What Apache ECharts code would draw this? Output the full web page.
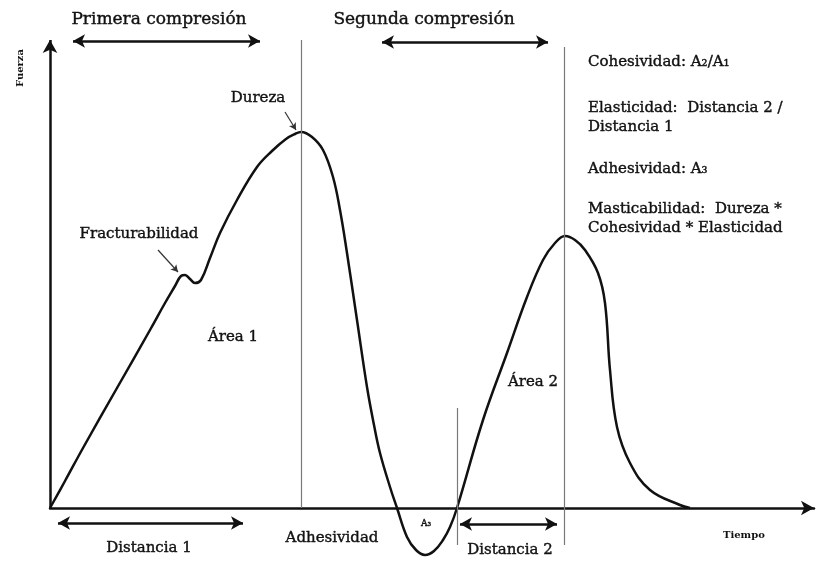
<!DOCTYPE html>
<html>
<head>
<meta charset="utf-8">
<title>Perfil de textura</title>
<script src="https://cdn.jsdelivr.net/npm/echarts@6/dist/echarts.min.js"></script>
<style>
  html, body { margin: 0; padding: 0; background: #fff; }
  #chart { width: 816px; height: 562px; }
</style>
</head>
<body>
<div id="chart"></div>
<script>
// curva fuerza-tiempo (unidades arbitrarias)
const tiempo = [0, 15, 33, 67, 100, 115, 125, 131, 135, 140, 145, 151, 160, 170, 187, 207, 222, 236, 245, 251,
  262, 273, 283, 290, 297, 307, 317, 324, 330, 340, 347, 357, 366, 375, 384, 393, 400, 407,
  433, 457, 477, 493, 505, 515, 525, 535, 548, 555, 560, 567, 580, 600, 630, 640]
const fuerza = [0, 27, 60, 120, 178, 205, 222, 232, 233, 229, 225, 228, 250, 275, 308, 341, 357, 369, 374, 376,
  371, 358, 331, 298, 255, 188, 121, 83, 55, 21, 0, -29, -42, -47, -43, -32, -19, 0,
  88, 155, 211, 248, 265, 272, 268, 258, 235, 205, 138, 81, 45, 18, 3, 0]

// lineas verticales de referencia: [tiempo, desde, hasta]
const guias = [[251, 0, 468], [514, -37, 461], [407, -37, 100]]
// flechas dobles: [t0, t1, nivel]
const flechas = [[23, 210, 467], [332, 498, 466], [8, 193, -15], [410, 507, -16]]
// flechas de anotacion: [t0, f0, t1, f1]
const punteros = [[235, 396, 246, 378], [108, 258, 128, 236]]

const serif = '"DejaVu Serif", "Liberation Serif", serif'
const ink = '#111'

const curva = tiempo.map((t, i) => [t, fuerza[i]])

const markData = []
// eje de fuerza con flecha
markData.push([
  { coord: [0, 0], symbol: 'none' },
  { coord: [0, 468], symbol: 'arrow', symbolSize: [11, 13], lineStyle: { color: ink, width: 2.5, type: 'solid' } }
])
guias.forEach(g => {
  markData.push([
    { coord: [g[0], g[1]], symbol: 'none' },
    { coord: [g[0], g[2]], symbol: 'none', lineStyle: { color: '#7a7a7a', width: 1.2, type: 'solid' } }
  ])
})
flechas.forEach(f => {
  markData.push([
    { coord: [f[0], f[2]], symbol: 'arrow', symbolSize: [10, 12] },
    { coord: [f[1], f[2]], symbol: 'arrow', symbolSize: [10, 12], lineStyle: { color: ink, width: 2.5, type: 'solid' } }
  ])
})
punteros.forEach(p => {
  markData.push([
    { coord: [p[0], p[1]], symbol: 'none' },
    { coord: [p[2], p[3]], symbol: 'arrow', symbolSize: [6, 7], lineStyle: { color: '#333', width: 1.2, type: 'solid' } }
  ])
})

// textos (trazo fino para imitar el escaneo)
const txt = (text, x, y, size, extra) => Object.assign({
  type: 'text', x: x, y: y, silent: true,
  style: {
    text: text, fill: ink, stroke: ink, lineWidth: 0.4,
    font: (size || 15) + 'px ' + serif, align: 'center', verticalAlign: 'middle'
  }
}, extra || {})

const textos = [
  txt('Primera compresión', 159, 20, 17),
  txt('Segunda compresión', 424, 20, 17),
  txt('Dureza', 258, 98),
  txt('Fracturabilidad', 139, 234),
  txt('Área 1', 233, 337),
  txt('Área 2', 533, 382),
  txt('Adhesividad', 332, 538),
  txt('Distancia 1', 149, 548),
  txt('Distancia 2', 510, 550),
  txt('A₃', 426, 524, 9),
  {
    type: 'text', x: 723, y: 535, silent: true,
    style: { text: 'Tiempo', fill: ink, font: 'bold 10px ' + serif, align: 'left', verticalAlign: 'middle' }
  },
  {
    type: 'text', x: 20, y: 68, rotation: Math.PI / 2, silent: true,
    style: { text: 'Fuerza', fill: ink, font: 'bold 10px ' + serif, align: 'center', verticalAlign: 'middle' }
  }
]
const bloque = [
  ['Cohesividad: A₂/A₁', 62],
  ['Elasticidad:  Distancia 2 /', 108],
  ['Distancia 1', 127],
  ['Adhesividad: A₃', 169],
  ['Masticabilidad:  Dureza *', 209],
  ['Cohesividad * Elasticidad', 228]
]
bloque.forEach(b => {
  textos.push({
    type: 'text', x: 588, y: b[1], silent: true,
    style: {
      text: b[0], fill: ink, stroke: ink, lineWidth: 0.4,
      font: '15px ' + serif, align: 'left', verticalAlign: 'middle'
    }
  })
})

const myChart = echarts.init(document.getElementById('chart'))
const option = {
  animation: false,
  grid: { left: 50, right: 2, top: 40, bottom: 4 },
  xAxis: {
    type: 'value', min: 0, max: 764,
    axisLine: {
      show: true,
      onZero: true,
      symbol: ['none', 'arrow'],
      symbolSize: [11, 13],
      lineStyle: { color: ink, width: 2.5 }
    },
    axisTick: { show: false },
    axisLabel: { show: false },
    splitLine: { show: false }
  },
  yAxis: {
    type: 'value', min: -50, max: 468,
    axisLine: { show: false },
    axisTick: { show: false },
    axisLabel: { show: false },
    splitLine: { show: false }
  },
  series: [
    {
      type: 'line',
      data: curva,
      smooth: 0.4,
      showSymbol: false,
      clip: false,
      silent: true,
      lineStyle: { color: ink, width: 2.5 },
      markLine: {
        silent: true,
        animation: false,
        label: { show: false },
        emphasis: { disabled: true },
        data: markData
      },
      z: 3
    }
  ],
  graphic: textos
}
myChart.setOption(option)
</script>
</body>
</html>
